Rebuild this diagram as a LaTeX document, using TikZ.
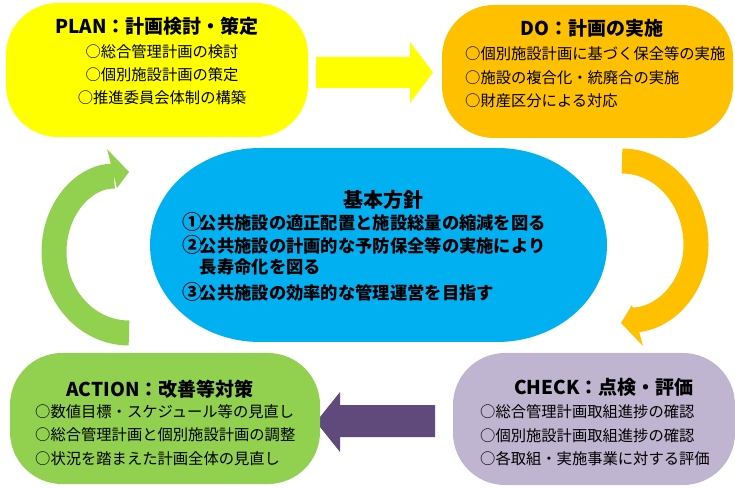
\documentclass[tikz,border=0pt]{standalone}
\usepackage{fontspec}
\setmainfont{Noto Sans CJK JP}
\definecolor{cyellow}{RGB}{255,255,0}
\definecolor{corange}{RGB}{255,192,0}
\definecolor{cblue}{RGB}{0,176,240}
\definecolor{cgreen}{RGB}{146,208,80}
\definecolor{clav}{RGB}{191,181,208}
\definecolor{cpurple}{RGB}{96,74,123}
\newcommand{\circnum}[1]{\makebox[17.6pt][l]{\fontsize{20}{20}\selectfont #1}}
\tikzset{
  pdcabox/.style={rectangle, rounded corners=52pt, draw=none, inner sep=0pt},
  boxtitle/.style={inner sep=0pt, font=\fontsize{19}{19}\selectfont\bfseries},
  boxitem/.style={inner sep=0pt, font=\fontsize{15.3}{15.3}\selectfont},
  ctitle/.style={inner sep=0pt, font=\fontsize{20}{20}\selectfont\bfseries},
  citem/.style={inner sep=0pt, anchor=west, font=\fontsize{17.3}{17.3}\selectfont\bfseries},
  ringarrow/.style={line width=25pt, line cap=butt},
}
\begin{document}
\begin{tikzpicture}[x=1pt,y=1pt]
\useasboundingbox (0,0) rectangle (735,487);

% curved arrows
\draw[ringarrow, cgreen] (129,154) .. controls (87.6,154) and (54,190.3) .. (54,235)
  .. controls (54,277.5) and (83,311) .. (114,311);
\fill[cgreen] (107,338) -- (129,315) -- (117,299) -- cycle;

\draw[ringarrow, corange] (622,326) .. controls (663,326) and (696,288.4) .. (696,242)
  .. controls (696,200.6) and (665,167) .. (632,167);
\fill[corange] (632,182) -- (621,164) -- (643,141) -- cycle;

% straight block arrows
\fill[cyellow] (316,430) -- (410,430) -- (410,445) -- (433,414.5) -- (410,384) -- (410,399) -- (316,399) -- cycle;
\fill[cpurple] (435,82) -- (340,82) -- (340,95) -- (316,65) -- (340,35) -- (340,50) -- (435,50) -- cycle;

% boxes
\node[pdcabox, fill=cyellow, minimum width=302pt, minimum height=134pt] (plan) at (157,417) {};
\node[pdcabox, fill=corange, minimum width=291pt, minimum height=133pt] (do) at (587.5,415.5) {};
\node[pdcabox, fill=cgreen, minimum width=310pt, minimum height=131pt] (action) at (165,68.5) {};
\node[pdcabox, fill=clav, minimum width=282pt, minimum height=132pt] (check) at (594,68) {};

% centre
\fill[cblue] (260,339) -- (497,339) arc[start angle=90,end angle=-90,x radius=110,y radius=97]
  -- (260,145) arc[start angle=270,end angle=90,x radius=110,y radius=97] -- cycle;

% PLAN text
\node[boxtitle] (plant) at (157,461) {PLAN：計画検討・策定};
\node[boxitem] (plan1) at (162,435) {○総合管理計画の検討};
\node[boxitem] (plan2) at (162,412) {○個別施設計画の策定};
\node[boxitem] (plan3) at (162,389) {○推進委員会体制の構築};

% DO text
\node[boxtitle] (dot) at (592,459) {DO：計画の実施};
\node[boxitem, anchor=west] (do1) at (465,433.5) {○個別施設計画に基づく保全等の実施};
\node[boxitem, anchor=west] (do2) at (465,409) {○施設の複合化・統廃合の実施};
\node[boxitem, anchor=west] (do3) at (465,386) {○財産区分による対応};

% ACTION text
\node[boxtitle] (actiont) at (160,97.5) {ACTION：改善等対策};
\node[boxitem, anchor=west] (action1) at (35,75.5) {○数値目標・スケジュール等の見直し};
\node[boxitem, anchor=west] (action2) at (35,52) {○総合管理計画と個別施設計画の調整};
\node[boxitem, anchor=west] (action3) at (35,28.5) {○状況を踏まえた計画全体の見直し};

% CHECK text
\node[boxtitle] (checkt) at (604,99.5) {CHECK：点検・評価};
\node[boxitem, anchor=west] (check1) at (480,75) {○総合管理計画取組進捗の確認};
\node[boxitem, anchor=west] (check2) at (480,51.5) {○個別施設計画取組進捗の確認};
\node[boxitem, anchor=west] (check3) at (480,28.5) {○各取組・実施事業に対する評価};

% centre text
\node[ctitle] (ct) at (383,287) {基本方針};
\node[citem] (c1) at (182,265) {\circnum{①}公共施設の適正配置と施設総量の縮減を図る};
\node[citem] (c2) at (182,242) {\circnum{②}公共施設の計画的な予防保全等の実施により};
\node[citem] (c3) at (199.6,220) {長寿命化を図る};
\node[citem] (c4) at (182,195) {\circnum{③}公共施設の効率的な管理運営を目指す};
\end{tikzpicture}
\end{document}
